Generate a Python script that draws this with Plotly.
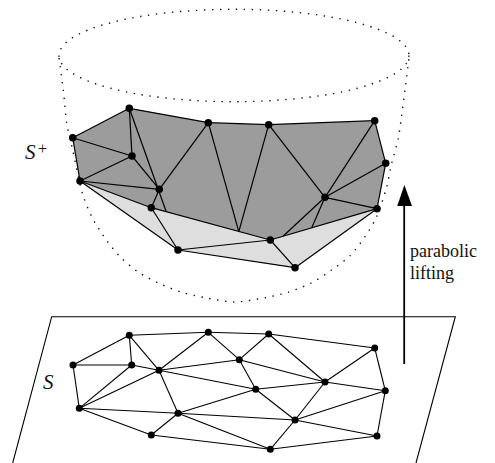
import plotly.graph_objects as go

# Lifted points on the paraboloid S+
upper_names = list("ABCDEFGHIJKLMNO")
upper_x = [129.3, 72.7, 132.0, 80.0, 159.3, 151.3, 178.0, 208.3, 268.7, 374.7, 385.7, 325.0, 377.0, 270.3, 295.0]
upper_y = [108.3, 137.7, 156.0, 181.0, 189.3, 207.7, 250.0, 122.7, 124.7, 120.7, 163.3, 197.3, 208.7, 240.0, 267.7]

# Ends of edges that vanish behind the lower hull
hidden_names = ["h1", "h2", "h3", "h4"]
hidden_x = [166.0, 238.8, 283.3, 311.7]
hidden_y = [211.0, 231.7, 236.0, 227.7]

upper_edges = ["AB", "AH", "HI", "IJ", "JK", "KM", "BD", "BC", "AC", "CD", "CE", "DE", "EF", "DF",
               "FN", "NM", "EH", "IL", "JL", "KL", "ML", "DG", "FG", "GN", "GO", "NO", "OM"]
hidden_edges = [("A", "h1"), ("H", "h2"), ("I", "h2"), ("L", "h3"), ("L", "h4")]
dark_outline = list("AHIJKMNFDB")
light_outline = list("DGOMNF")

# Points of the planar set S
lower_names = list("abcdefghijklmnopq")
lower_x = [129.3, 73.0, 131.7, 79.3, 159.0, 178.0, 151.3, 208.3, 268.7, 374.7, 385.3, 325.0, 377.0, 295.0, 270.3, 239.3, 255.7]
lower_y = [335.3, 365.0, 365.0, 408.3, 370.3, 413.3, 435.0, 332.3, 334.0, 348.0, 390.7, 382.0, 436.0, 420.0, 449.3, 359.7, 389.3]
lower_edges = ["ab", "ah", "hi", "ij", "jk", "km", "mo", "og", "gd", "db", "bc", "ac", "ae", "ce", "cd", "de",
               "df", "ef", "fg", "eh", "ep", "hp", "pi", "eq", "pq", "pl", "il", "jl", "lk", "lq", "qf", "qn",
               "ln", "nk", "nm", "no", "fn", "fo"]

# Dotted bowl outline
bowl_x = [59, 63.3, 66.7, 72.7, 82.3, 91.7, 104, 119.3, 137.7, 159, 181.7, 205, 234, 265, 288, 310.7, 331.7, 350, 365, 376.7, 386.7, 391.7, 398.3, 401.7, 405, 409]
bowl_y = [58, 90, 123, 150, 193, 216.7, 236.7, 256, 271.7, 283.3, 292.3, 297.7, 302, 297.7, 292.3, 283.3, 270, 255.7, 236.7, 216.7, 186.7, 163.3, 138.3, 115, 90, 58]

# Rim ellipse box
rim_left, rim_right, rim_top, rim_bottom = 59, 409, 9.3, 101.7

# Plane S outline
plane_x = [12.7, 51.7, 455.3, 416.0]
plane_y = [463, 316.7, 316.7, 463]

# Arrow
arrow_x = [404.2, 404.2]
arrow_y = [364, 204]
head_x = [404.4, 397.2, 412.0, 404.4]
head_y = [185, 206, 206, 185]

labels = [("parabolic", 408, 251), ("lifting", 408, 273)]

U = dict(zip(upper_names + hidden_names, zip(upper_x + hidden_x, upper_y + hidden_y)))
L = dict(zip(lower_names, zip(lower_x, lower_y)))


def segs(pairs, table):
    xs, ys = [], []
    for a, b in pairs:
        xs += [table[a][0], table[b][0], None]
        ys += [table[a][1], table[b][1], None]
    return xs, ys


DOT = "1.4px,6.6px"
fig = go.Figure()


def add(**kw):
    fig.add_trace(go.Scatter(showlegend=False, hoverinfo="skip", **kw))


add(x=bowl_x, y=bowl_y, mode="lines", line=dict(color="#111", width=1.4, dash=DOT, shape="spline", smoothing=0.8))
for outline, colour in ((light_outline, "#dedede"), (dark_outline, "#9c9c9c")):
    add(x=[U[n][0] for n in outline], y=[U[n][1] for n in outline], mode="lines", fill="toself",
        fillcolor=colour, line=dict(width=0, color=colour))
ex, ey = segs([tuple(e) for e in upper_edges] + hidden_edges, U)
add(x=ex, y=ey, mode="lines", line=dict(color="black", width=1.2))
add(x=upper_x, y=upper_y, mode="markers", marker=dict(color="black", size=7.5))

add(x=plane_x, y=plane_y, mode="lines", line=dict(color="black", width=1.1))
ex, ey = segs([tuple(e) for e in lower_edges], L)
add(x=ex, y=ey, mode="lines", line=dict(color="black", width=1.1))
add(x=lower_x, y=lower_y, mode="markers", marker=dict(color="black", size=7))

add(x=arrow_x, y=arrow_y, mode="lines", line=dict(color="black", width=1.8))
add(x=head_x, y=head_y, mode="lines", fill="toself", fillcolor="black", line=dict(color="black", width=0))

fig.add_shape(type="circle", x0=rim_left, x1=rim_right, y0=rim_top, y1=rim_bottom,
              line=dict(color="#111", width=1.4, dash=DOT))

SERIF = "Liberation Serif"
for text, x, y in labels:
    fig.add_annotation(x=x, y=y, text=text, showarrow=False, xanchor="left", yanchor="middle",
                       font=dict(family=SERIF, size=18, color="#111"))
fig.add_annotation(x=30, y=152, text="<i>S</i>", showarrow=False, xanchor="center", yanchor="middle",
                   font=dict(family=SERIF, size=21, color="#111"))
fig.add_annotation(x=42, y=148, text="+", showarrow=False, xanchor="center", yanchor="middle",
                   font=dict(family=SERIF, size=16, color="#111"))
fig.add_annotation(x=48, y=382, text="<i>S</i>", showarrow=False, xanchor="center", yanchor="middle",
                   font=dict(family=SERIF, size=21, color="#111"))

fig.update_layout(width=495, height=463, margin=dict(l=0, r=0, t=0, b=0),
                  plot_bgcolor="white", paper_bgcolor="white",
                  xaxis=dict(range=[0, 495], visible=False, fixedrange=True),
                  yaxis=dict(range=[463, 0], visible=False, fixedrange=True))
fig.write_html("out.html", config=dict(displayModeBar=False),
               post_script="document.body.style.margin='0';document.body.style.overflow='hidden';")
